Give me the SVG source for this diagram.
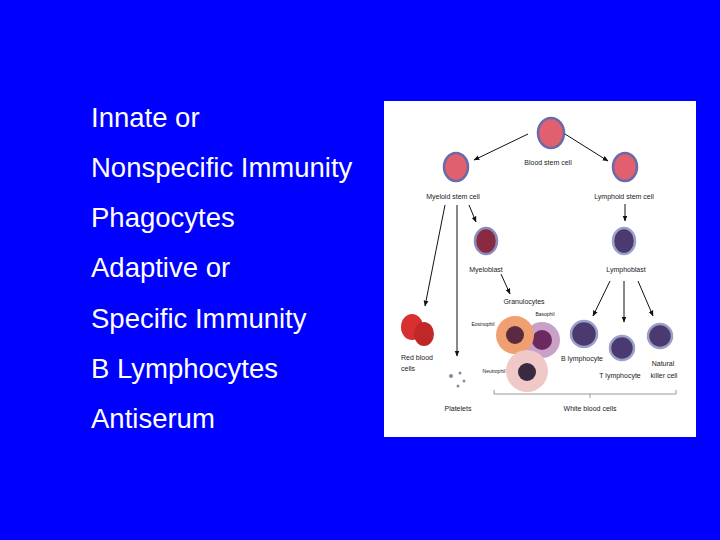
<svg xmlns="http://www.w3.org/2000/svg" width="720" height="540" viewBox="0 0 720 540">
<defs>
<style>
.t{font-family:"Liberation Sans",Arial,sans-serif;font-size:27.5px;fill:#fff}
.s{font-family:"Liberation Sans",Arial,sans-serif;font-size:7px;fill:#222;text-anchor:middle}
.a{stroke:#111;stroke-width:1;fill:none;marker-end:url(#ah)}
.stem{fill:#e06070;stroke:#6a6aa8;stroke-width:2.5}
.lym{fill:#4a3a70;stroke:#9aa0c8;stroke-width:2.5}
</style>
<marker id="ah" viewBox="0 0 10 10" refX="9" refY="5" markerWidth="6" markerHeight="6" orient="auto"><path d="M0,1 L10,5 L0,9 z" fill="#111"/></marker>
<radialGradient id="sg"><stop offset="0" stop-color="#f08090"/><stop offset="1" stop-color="#c04060"/></radialGradient>
</defs>
<rect width="720" height="540" fill="#0000ff"/>
<g id="list">
<text class="t" x="91" y="127">Innate or</text>
<text class="t" x="91" y="177">Nonspecific Immunity</text>
<text class="t" x="91" y="227">Phagocytes</text>
<text class="t" x="91" y="277">Adaptive or</text>
<text class="t" x="91" y="328">Specific Immunity</text>
<text class="t" x="91" y="378">B Lymphocytes</text>
<text class="t" x="91" y="428">Antiserum</text>
</g>
<g id="figure">
<rect x="384" y="101" width="312" height="336" fill="#fff"/>
<g id="blood-stem"><ellipse cx="551" cy="133" rx="13" ry="15" class="stem" fill="url(#sg)"/><text class="s" x="548" y="165">Blood stem cell</text></g>
<g id="myeloid-stem"><ellipse cx="456" cy="167" rx="12" ry="14" class="stem"/><text class="s" x="453" y="199">Myeloid stem cell</text></g>
<g id="lymphoid-stem"><ellipse cx="625" cy="167" rx="12" ry="14" class="stem"/><text class="s" x="624" y="199">Lymphoid stem cell</text></g>
<g id="myeloblast"><ellipse cx="486" cy="241" rx="11" ry="13" fill="#8a2a40" stroke="#8a8ac0" stroke-width="2.5"/><text class="s" x="486" y="272">Myeloblast</text></g>
<g id="lymphoblast"><ellipse cx="624" cy="241" rx="11" ry="13" class="lym" stroke="#d0c8e0"/><text class="s" x="626" y="272">Lymphoblast</text></g>
<g id="granulocytes"><text class="s" x="524" y="304">Granulocytes</text>
<circle cx="542" cy="340" r="18" fill="#c9a0c8"/><circle cx="542" cy="340" r="10" fill="#6a2a60"/>
<circle cx="515" cy="335" r="19" fill="#f0a070"/><circle cx="515" cy="335" r="9" fill="#5a2a40"/>
<circle cx="527" cy="371" r="21" fill="#f0c8c8"/><circle cx="527" cy="372" r="9" fill="#3a2a40"/>
<text class="s" x="545" y="316" style="font-size:5px">Basophil</text>
<text class="s" x="483" y="326" style="font-size:5px">Eosinophil</text>
<text class="s" x="494" y="373" style="font-size:5px">Neutrophil</text></g>
<g id="rbc"><ellipse cx="412" cy="327" rx="11" ry="13" fill="#d83030"/><ellipse cx="424" cy="334" rx="10" ry="12" fill="#c02828"/><text class="s" x="401" y="360" style="text-anchor:start">Red blood</text><text class="s" x="401" y="371" style="text-anchor:start">cells</text></g>
<g id="platelets"><circle cx="451" cy="376" r="2" fill="#889"/><circle cx="460" cy="373" r="1.5" fill="#889"/><circle cx="464" cy="381" r="1.5" fill="#889"/><circle cx="458" cy="386" r="1.5" fill="#889"/><text class="s" x="458" y="411">Platelets</text></g>
<g id="b-lym"><circle cx="584" cy="334" r="13" class="lym"/><text class="s" x="582" y="361">B lymphocyte</text></g>
<g id="t-lym"><circle cx="622" cy="348" r="12" class="lym"/><text class="s" x="620" y="378">T lymphocyte</text></g>
<g id="nk"><circle cx="660" cy="336" r="12" class="lym"/><text class="s" x="663" y="366">Natural</text><text class="s" x="664" y="378">killer cell</text></g>
<g id="wbc"><path d="M494,390 V394 H676 V390 M590,394 V398" stroke="#999" fill="none"/><text class="s" x="590" y="411">White blood cells</text></g>
</g>
<g id="connectors">
<line class="a" x1="528" y1="134" x2="474" y2="160"/>
<line class="a" x1="565" y1="134" x2="608" y2="161"/>
<line class="a" x1="625" y1="204" x2="625" y2="221"/>
<line class="a" x1="445" y1="205" x2="425" y2="306"/>
<line class="a" x1="457" y1="205" x2="457" y2="356"/>
<line class="a" x1="469" y1="205" x2="476" y2="222"/>
<line class="a" x1="501" y1="274" x2="510" y2="294"/>
<line class="a" x1="610" y1="281" x2="593" y2="316"/>
<line class="a" x1="624" y1="281" x2="624" y2="322"/>
<line class="a" x1="638" y1="281" x2="653" y2="316"/>
</g>
</svg>
